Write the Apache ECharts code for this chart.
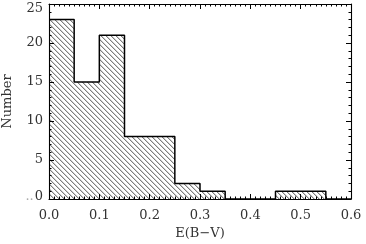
<!DOCTYPE html>
<html><head><meta charset="utf-8">
<script src="https://cdn.jsdelivr.net/npm/echarts@6/dist/echarts.min.js"></script>
<style>html,body{margin:0;padding:0;background:#fff}#c{width:366px;height:244px}</style>
</head><body><div id="c"></div>
<script>
// Histogram of E(B-V): left edges of 0.05-wide bins and counts
const binEdges = [0, 0.05, 0.10, 0.15, 0.20, 0.25, 0.30, 0.35, 0.40, 0.45, 0.50, 0.55, 0.60];
const counts   = [23, 15, 21, 8, 8, 2, 1, 0, 0, 1, 1, 0];
const xTicks = [0, 0.1, 0.2, 0.3, 0.4, 0.5, 0.6];
const yTicks = [0, 5, 10, 15, 20, 25];

const data = binEdges.map((e, i) => [e, i < counts.length ? counts[i] : 0]);

// hatch pattern
const pc = document.createElement('canvas');
pc.width = 5; pc.height = 5;
const g = pc.getContext('2d');
for (let i = 0; i < 5; i++) {
  g.fillStyle = '#cfcfcf'; g.fillRect((i + 1) % 5, i, 1, 1);
  g.fillStyle = '#7e7e7e'; g.fillRect(i, i, 1, 1);
}

const font = 'DejaVu Serif';
const xMin = xTicks[0], xMax = xTicks[xTicks.length - 1];
const yMin = yTicks[0], yMax = yTicks[yTicks.length - 1];
const gridRect = {left: 49, right: 15, top: 4, bottom: 45, containLabel: false, outerBoundsMode: 'none'};

function frameX(pos, gi) {
  return {
    type: 'value', gridIndex: gi, min: xMin, max: xMax, interval: 0.1, position: pos, z: 10,
    axisLine: {show: true, onZero: false, lineStyle: {color: '#000', width: 1.1}},
    axisTick: {show: true, inside: true, length: 5, lineStyle: {color: '#000'}},
    minorTick: {show: true, splitNumber: 10, length: 2.5, lineStyle: {color: '#000'}},
    splitLine: {show: false}, axisLabel: {show: false}
  };
}
function frameY(pos, gi) {
  return {
    type: 'value', gridIndex: gi, min: yMin, max: yMax, interval: 5, position: pos, z: 10,
    axisLine: {show: true, onZero: false, lineStyle: {color: '#000', width: 1.1}},
    axisTick: {show: true, inside: true, length: 5, lineStyle: {color: '#000'}},
    minorTick: {show: true, splitNumber: 5, length: 2.5, lineStyle: {color: '#000'}},
    splitLine: {show: false}, axisLabel: {show: false}
  };
}

const chart = echarts.init(document.getElementById('c'), null, {renderer: 'canvas'});
chart.setOption({
  animation: false,
  backgroundColor: '#fff',
  grid: [Object.assign({}, gridRect), Object.assign({}, gridRect), Object.assign({}, gridRect)],
  xAxis: [{
    type: 'value', gridIndex: 0, min: xMin, max: xMax, interval: 0.1,
    position: 'bottom',
    axisLine: {show: false, onZero: false},
    axisTick: {show: false},
    splitLine: {show: false},
    axisLabel: {fontFamily: font, fontSize: 13, color: '#333', margin: 10,
      formatter: v => v.toFixed(1)},
    name: 'E(B\u2212V)', nameLocation: 'middle', nameGap: 25,
    nameTextStyle: {fontFamily: font, fontSize: 13, color: '#333'}
  }, frameX('bottom', 1), frameX('top', 2)],
  yAxis: [{
    type: 'value', gridIndex: 0, min: yMin, max: yMax, interval: 5,
    position: 'left',
    axisLine: {show: false, onZero: false},
    axisTick: {show: false},
    splitLine: {show: false},
    axisLabel: {fontFamily: font, fontSize: 13, color: '#333', margin: 6,
      formatter: v => v === 25 ? '{lo|25}' : (v === 0 ? '{d|..}{hi|0}' : String(v)),
      rich: {
        lo: {fontFamily: font, fontSize: 13, color: '#333', padding: [10, 0, 0, 0]},
        hi: {fontFamily: font, fontSize: 13, color: '#333', padding: [0, 0, 4, 0]},
        d: {fontFamily: font, fontSize: 13, color: '#aaa', padding: [0, 1, 4, 0]}
      }},
    name: 'Number', nameLocation: 'middle', nameGap: 29,
    nameTextStyle: {fontFamily: font, fontSize: 13, color: '#333'}
  }, frameY('left', 1), frameY('right', 2)],
  series: [{
    type: 'line',
    xAxisIndex: 0, yAxisIndex: 0,
    step: 'end',
    z: 2,
    data: data,
    showSymbol: false,
    symbol: 'none',
    lineStyle: {color: '#000', width: 1.5},
    areaStyle: {color: {image: pc, repeat: 'repeat'}, opacity: 1}
  }]
});
</script></body></html>
